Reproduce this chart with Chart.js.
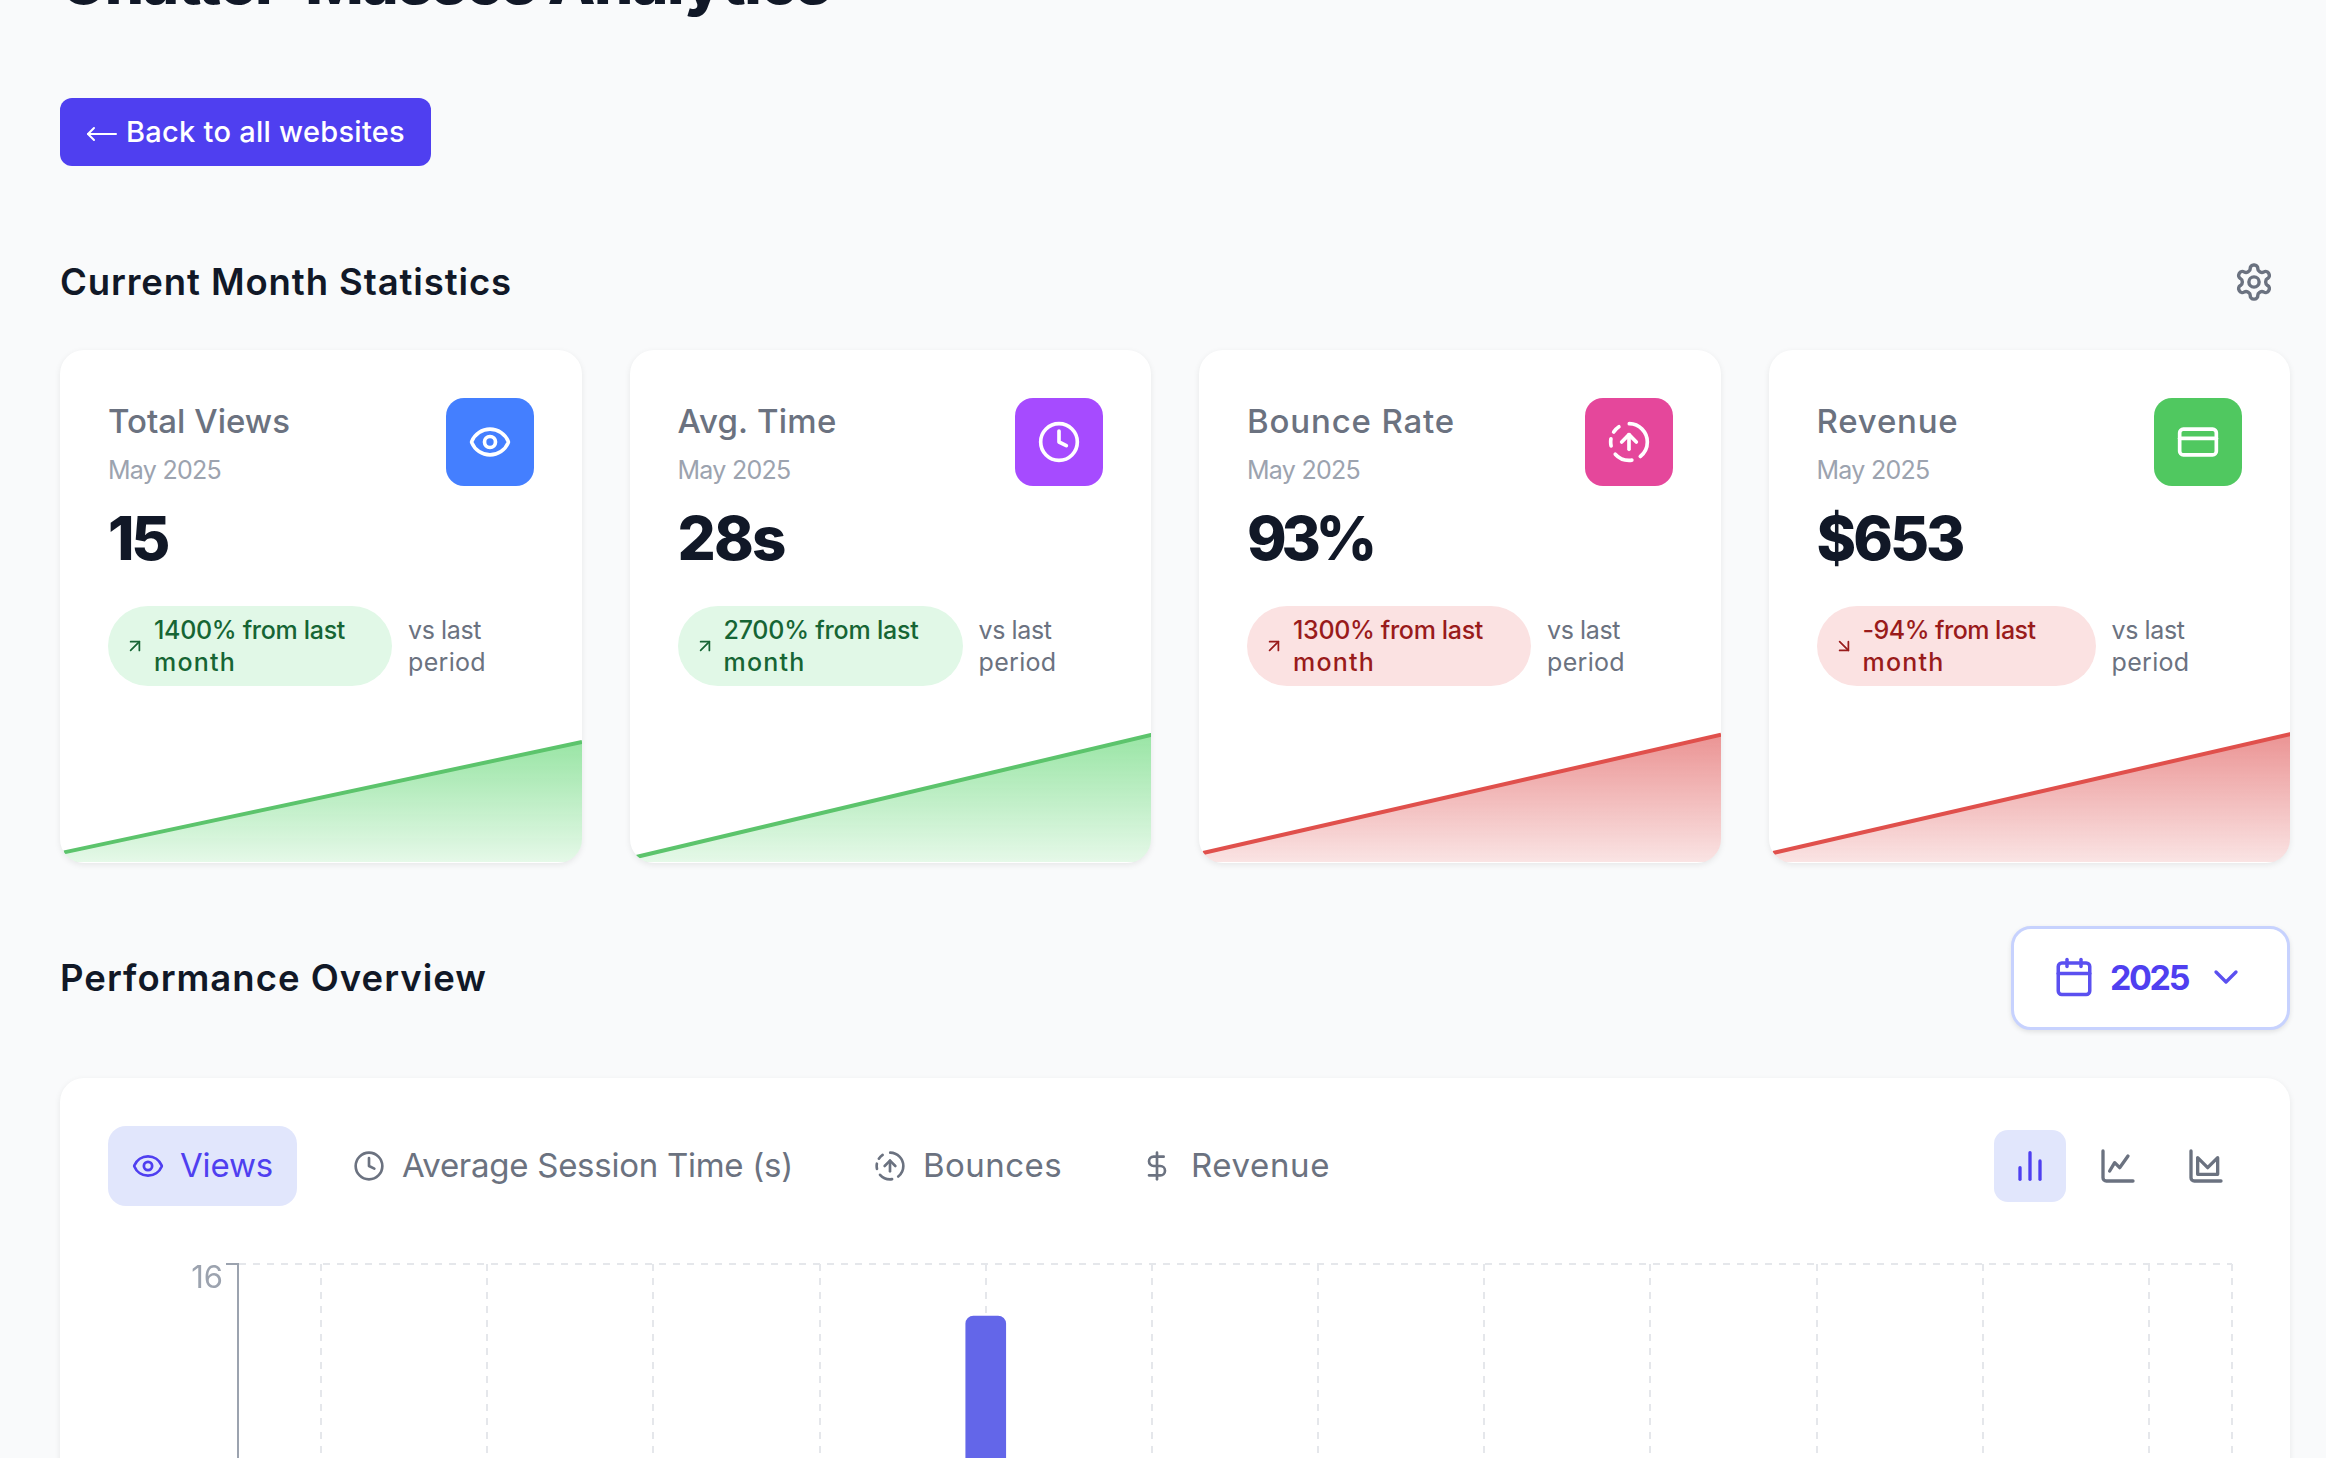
<!DOCTYPE html>
<html><head><meta charset="utf-8">
<script src="https://cdn.jsdelivr.net/npm/chart.js@4"></script>
<style>
html,body{margin:0;padding:0;width:2326px;height:1458px;overflow:hidden;background:#f9fafb;font-family:Inter,"Noto Sans",sans-serif;}
#page{position:absolute;left:0;top:0;width:2326px;height:1458px;overflow:hidden;}
.t{position:absolute;white-space:nowrap;transform:translateY(-50%);line-height:1.2;}
.box{position:absolute;box-sizing:border-box;}
.card{position:absolute;box-sizing:border-box;background:#fff;border-radius:24px;box-shadow:0 2px 6px rgba(0,0,0,.08);overflow:hidden;}
svg.i{position:absolute;fill:none;stroke-linecap:round;stroke-linejoin:round;transform:translate(-50%,-50%);}
canvas{position:absolute;display:block;}
</style></head><body><div id="page"></div>
<script>
// ---- chart data ----
const months=["Jan","Feb","Mar","Apr","May","Jun","Jul","Aug","Sep","Oct","Nov","Dec"];
const viewsByMonth=[0,0,0,0,15,0,0,0,0,0,0,0];
const yTicksMax=16;
const cardTitles=["Total Views","Avg. Time","Bounce Rate","Revenue"];
const cardValues=["15","28s","93%","$653"];
const cardChanges=["1400% from last","2700% from last","1300% from last","-94% from last"];
const sparkViews=[1.2,15];
const sparkTime=[1,28];
const sparkBounce=[6.6,93];
const sparkRevenue=[46,653];
const tabs=["Views","Average Session Time (s)","Bounces","Revenue"];

const ICONS={
eye:'<path d="M2.062 12.348a1 1 0 0 1 0-.696 10.75 10.75 0 0 1 19.876 0 1 1 0 0 1 0 .696 10.75 10.75 0 0 1-19.876 0"/><circle cx="12" cy="12" r="3"/>',
clock:'<circle cx="12" cy="12" r="10"/><polyline points="12 6 12 12 16 14"/>',
bounce:'<circle cx="12" cy="12" r="10" stroke-dasharray="9 5 10 5 4 4 4 6 15.8"/><path d="m16 12-4-4-4 4"/><path d="M12 16V8"/>',
card:'<rect x="2" y="5" width="20" height="14" rx="2"/><line x1="2" y1="10" x2="22" y2="10"/>',
dollar:'<line x1="12" y1="2" x2="12" y2="22"/><path d="M17 5H9.5a3.5 3.5 0 0 0 0 7h5a3.5 3.5 0 0 1 0 7H6"/>',
cal:'<path d="M8 2v4"/><path d="M16 2v4"/><rect x="3" y="4" width="18" height="18" rx="2"/><path d="M3 10h18"/>',
chev:'<path d="m6 9 6 6 6-6"/>',
gear:'<path d="M12.22 2h-.44a2 2 0 0 0-2 2v.18a2 2 0 0 1-1 1.73l-.43.25a2 2 0 0 1-2 0l-.15-.08a2 2 0 0 0-2.73.73l-.22.38a2 2 0 0 0 .73 2.73l.15.1a2 2 0 0 1 1 1.72v.51a2 2 0 0 1-1 1.74l-.15.09a2 2 0 0 0-.73 2.73l.22.38a2 2 0 0 0 2.73.73l.15-.08a2 2 0 0 1 2 0l.43.25a2 2 0 0 1 1 1.73V20a2 2 0 0 0 2 2h.44a2 2 0 0 0 2-2v-.18a2 2 0 0 1 1-1.73l.43-.25a2 2 0 0 1 2 0l.15.08a2 2 0 0 0 2.73-.73l.22-.39a2 2 0 0 0-.73-2.73l-.15-.08a2 2 0 0 1-1-1.74v-.5a2 2 0 0 1 1-1.74l.15-.09a2 2 0 0 0 .73-2.73l-.22-.38a2 2 0 0 0-2.73-.73l-.15.08a2 2 0 0 1-2 0l-.43-.25a2 2 0 0 1-1-1.73V4a2 2 0 0 0-2-2z"/><circle cx="12" cy="12" r="3"/>',
bars:'<path d="M6 20v-7"/><path d="M12 20V4"/><path d="M18 20V9"/>',
line:'<path d="M3 3v16a2 2 0 0 0 2 2h16"/><path d="m7 15 3-5 3 3 5-7"/>',
area:'<path d="M3 3v16a2 2 0 0 0 2 2h16"/><path d="M7 17h12V7l-6 6-6-6z"/>',
upr:'<path d="M7 17 17 7"/><path d="M7 7h10v10"/>',
dnr:'<path d="m7 7 10 10"/><path d="M17 7v10H7"/>',
back:'<path d="M2 12h28"/><path d="m8 6-6 6 6 6"/>'
};
const page=document.getElementById('page');
function text(parent,s,x,y,size,weight,color,w){
  const d=document.createElement('div');d.className='t';d.textContent=s;
  d.style.cssText=`left:${x}px;top:${y}px;font-size:${size}px;font-weight:${weight};color:${color};`;
  parent.appendChild(d);
  if(w){const m=d.getBoundingClientRect().width;d.style.letterSpacing=((w-m)/s.length)+'px';}
  return d;
}
function icon(parent,name,cx,cy,size,color,sw){
  const ns='http://www.w3.org/2000/svg';const s=document.createElementNS(ns,'svg');
  s.setAttribute('class','i');s.setAttribute('viewBox','0 0 24 24');s.setAttribute('width',size);s.setAttribute('height',size);
  s.style.left=cx+'px';s.style.top=cy+'px';s.style.stroke=color;s.style.strokeWidth=sw||2;
  s.innerHTML=ICONS[name];parent.appendChild(s);return s;
}
function box(parent,x,y,w,h,bg,r,extra){
  const d=document.createElement('div');d.className='box';
  d.style.cssText=`left:${x}px;top:${y}px;width:${w}px;height:${h}px;background:${bg};border-radius:${r}px;${extra||''}`;
  parent.appendChild(d);return d;
}
const INK='#111827',GR='#6b7280',LG='#9ca3af',IND='#4f3ff0';

// header
text(page,"Chatter-Masses Analytics",60,-18,62,800,INK,770);
box(page,60,98,371,68,IND,12);
const bk=document.createElementNS('http://www.w3.org/2000/svg','svg');
bk.setAttribute('viewBox','0 0 32 24');bk.setAttribute('width','32');bk.setAttribute('height','24');
bk.style.cssText='position:absolute;left:86px;top:122px;fill:none;stroke:#fff;stroke-width:2;stroke-linecap:round;stroke-linejoin:round';
bk.innerHTML=ICONS.back;page.appendChild(bk);
text(page,"Back to all websites",126,132,29,500,'#fff',279);
text(page,"Current Month Statistics",60,283,36.5,600,INK,452);
icon(page,'gear',2254,282,41,GR,2);

// stat cards
const cardX=[60,629.5,1199,1768.5];
const iconBg=['#447fff','#a64bff','#e5479b','#50c860'];
const iconName=['eye','clock','bounce','card'];
const titleW=[182,159,208,142];
const valueW=[59,107,125,146];
const pillW=[284,285,284,279];
const pillTextW=[191,195,190,173];
const good=[true,true,false,false];
const sparks=[sparkViews,sparkTime,sparkBounce,sparkRevenue];
const sparkMax=[25,44,146,1020];
cardX.forEach((cx,i)=>{
  const c=document.createElement('div');c.className='card';
  c.style.cssText=`left:${cx}px;top:350px;width:521.5px;height:512.5px;`;
  page.appendChild(c);
  const ox=48,oy=-350;
  text(c,cardTitles[i],ox,422+oy,33,500,GR,titleW[i]);
  text(c,"May 2025",ox,470+oy,25,400,LG,113);
  text(c,cardValues[i],ox,538+oy,60,800,INK,valueW[i]);
  box(c,385.5,48,88,88,iconBg[i],18);
  icon(c,iconName[i],429.5,92,44,'#fff',2);
  const g=good[i];
  box(c,48,256,pillW[i],80,g?'#e1f8e7':'#fbe2e2',40);
  icon(c,(i==3)?'dnr':'upr',75,296,21,g?'#166534':'#991b1b',2);
  const tc=g?'#166534':'#991b1b';
  text(c,cardChanges[i],94,280,25,500,tc,pillTextW[i]);
  text(c,"month",94,312,25,500,tc,82);
  const vx=48+pillW[i]+16;
  text(c,"vs last",vx,280,25,400,GR,73);
  text(c,"period",vx,312,25,400,GR,78);
  const cv=document.createElement('canvas');cv.width=522;cv.height=200;
  cv.style.cssText='left:0;top:312px;width:522px;height:200px;';c.appendChild(cv);
  const rgb=g?'80,210,100':'220,70,70';
  new Chart(cv,{type:'line',data:{labels:['prev','current'],datasets:[{data:sparks[i],
      borderColor:g?'#5cc46c':'#e0504c',borderWidth:4,pointRadius:0,tension:0,fill:'origin',
      backgroundColor(ctx){const ch=ctx.chart;if(!ch.chartArea)return 'transparent';
        const y=ch.scales.y;const gr=ch.ctx.createLinearGradient(0,y.getPixelForValue(sparks[i][1]),0,ch.chartArea.bottom);
        gr.addColorStop(0,`rgba(${rgb},.58)`);gr.addColorStop(1,`rgba(${rgb},.15)`);return gr;}}]},
    options:{responsive:false,animation:false,layout:{padding:{left:4,right:0,top:0,bottom:0}},
      plugins:{legend:{display:false},tooltip:{enabled:false}},
      scales:{x:{display:false},y:{display:false,min:0,max:sparkMax[i]}}}});
});

// performance header
text(page,"Performance Overview",60,979,36.5,600,INK,427);
box(page,2011,926,279,104,'#fff',20,'border:3px solid #c7d2fe;box-shadow:0 2px 5px rgba(0,0,0,.1);');
icon(page,'cal',2074,977,42,'#5b50f0',2);
text(page,"2025",2110,978,34,700,IND,78);
icon(page,'chev',2226,977,40,'#5b50f0',2);

// chart card
const pc=document.createElement('div');pc.className='card';
pc.style.cssText='left:60px;top:1078px;width:2230px;height:1100px;';
page.appendChild(pc);
const P=(x,y)=>[x-60,y-1078];
box(pc,48,48,189,80,'#e1e6fc',18);
const tabDefs=[['eye',148,180,93,IND,33],['clock',369,402,391,GR,32],['bounce',890,923,139,GR,32],['dollar',1157,1191,139,GR,32]];
tabDefs.forEach((d,i)=>{
  const [ix,iy]=P(d[1],1166);icon(pc,d[0],ix,iy,d[5],d[4],2);
  const [tx,ty]=P(d[2],1166);text(pc,tabs[i],tx,ty,33,400,d[4],d[3]);
});
box(pc,1934,52,72,72,'#e1e6fc',14);
[['bars',2030,IND],['line',2118,GR],['area',2206,GR]].forEach(d=>{
  const [ix,iy]=P(d[1],1166);icon(pc,d[0],ix,iy,40,d[2],2);
});

// main chart
const cv=document.createElement('canvas');cv.width=2160;cv.height=916;
cv.style.cssText='left:40px;top:162px;width:2160px;height:916px;';
pc.appendChild(cv);
const AX='#9ca3af',GRID='#e5e7eb',font={family:'Inter',size:31,weight:'400'};
const rightEdge={id:'rightEdge',beforeDatasetsDraw(ch){const a=ch.chartArea,c=ch.ctx;c.save();c.strokeStyle=GRID;c.lineWidth=2;c.setLineDash([7,7]);
  c.beginPath();c.moveTo(a.right,a.top);c.lineTo(a.right,a.bottom);c.stroke();c.restore();}};
new Chart(cv,{type:'bar',data:{labels:months,datasets:[{label:'Views',data:viewsByMonth,backgroundColor:'#6366e9',barThickness:40,
    borderRadius:{topLeft:8,topRight:8,bottomLeft:0,bottomRight:0},borderSkipped:'bottom'}]},
  plugins:[rightEdge],
  options:{responsive:false,animation:false,layout:{padding:{top:24,left:0,right:28,bottom:0}},
    plugins:{legend:{display:false},tooltip:{enabled:false}},
    scales:{
      x:{offset:true,afterFit(s){s.height=60;},
         grid:{offset:false,color:GRID,lineWidth:2,tickLength:12,tickColor:AX,tickWidth:2,tickBorderDash:[]},
         border:{display:true,color:AX,width:2,dash:[7,7]},
         ticks:{color:LG,font,padding:4,maxRotation:0,autoSkip:false}},
      y:{position:'left',min:0,max:yTicksMax,afterFit(s){s.width=138;},
         grid:{color:GRID,lineWidth:2,tickLength:12,tickColor:AX,tickWidth:2,tickBorderDash:[]},
         border:{display:true,color:AX,width:2,dash:[7,7]},
         ticks:{stepSize:4,color:LG,font,padding:3,labelOffset:15}}
    }}});
</script></body></html>
